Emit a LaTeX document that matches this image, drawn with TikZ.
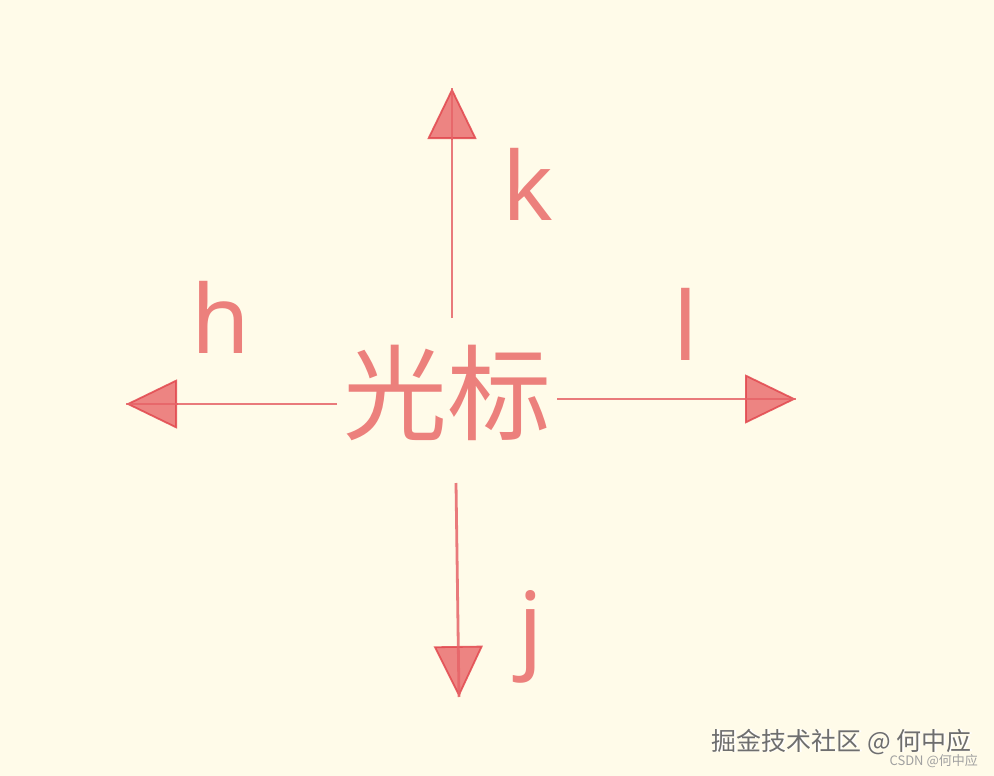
\documentclass[tikz,border=0pt]{standalone}
\usepackage{fontspec}
\setmainfont{Noto Sans}
\newfontfamily\cjk{Noto Sans CJK SC}
\usetikzlibrary{arrows.meta}
\definecolor{bgc}{RGB}{255,251,233}
\definecolor{linec}{RGB}{230,100,104}
\definecolor{textc}{RGB}{236,128,124}
\definecolor{headfill}{RGB}{234,112,112}
\definecolor{headdraw}{RGB}{226,72,78}
\definecolor{wmc}{RGB}{110,110,110}
\definecolor{wmc2}{RGB}{160,160,160}
\tikzset{
  conn/.style={draw=linec, line width=2.8pt, opacity=0.85},
  headtip/.style={-{Triangle[length=51pt,width=49pt,fill=headfill]}, draw=headdraw, line width=1.8pt, opacity=0.85},
  lbl/.style={text=textc, font=\fontsize{95}{100}\selectfont, inner sep=0pt, anchor=base},
  center/.style={text=textc, font=\cjk\fontsize{104}{110}\selectfont, inner sep=0pt, anchor=base},
  wm/.style={font=\cjk\fontsize{25}{27}\selectfont, inner sep=0pt, anchor=base east},
  wmsmall/.style={text=wmc2, font=\cjk\fontsize{13}{14}\selectfont, inner sep=0pt, anchor=base east}
}
\begin{document}
\begin{tikzpicture}[x=1pt,y=-1pt]
\fill[bgc] (0,0) rectangle (994,776);
\useasboundingbox (0,0) rectangle (994,776);

\node[center] (cur) at (447,432) {光标};

% ends
\coordinate (us) at (452,318); \coordinate (ut) at (452,88);
\coordinate (ls) at (337,404); \coordinate (lt) at (126,404);
\coordinate (rs) at (557,399); \coordinate (rt) at (796,399);
\coordinate (ds) at (456,483); \coordinate (dt) at (459,697);
\coordinate (ub) at (452,140);
\coordinate (lb) at (177,404);
\coordinate (rb) at (746,399);
\coordinate (db) at (458.3,648);

\draw[headtip] (ub) -- (ut);
\draw[headtip] (lb) -- (lt);
\draw[headtip] (rb) -- (rt);
\draw[headtip] (db) -- (dt);

\draw[conn] (us) -- (ut);
\draw[conn] (ls) -- (lt);
\draw[conn] (rs) -- (rt);
\draw[conn] (ds) -- (dt);

\node[lbl] (k) at (528,220) {k};
\node[lbl] (h) at (221,353) {h};
\node[lbl] (l) at (686,360) {l};
\node[lbl] (j) at (531,660) {j};

\node[wm, text=white] (wmhi) at (973.2,750.8) {掘金技术社区 @ 何中应};
\node[wm, text=wmc] (wmt) at (972,750) {掘金技术社区 @ 何中应};
\node[wmsmall] (csdn) at (978,765) {CSDN @何中应};
\end{tikzpicture}
\end{document}
